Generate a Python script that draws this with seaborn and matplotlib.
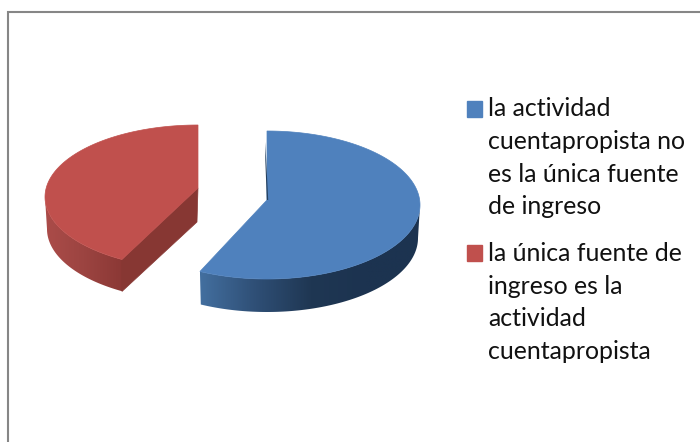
import numpy as np
import matplotlib
matplotlib.use("Agg")
import matplotlib.pyplot as plt
from matplotlib.colors import LinearSegmentedColormap
from matplotlib.legend_handler import HandlerPatch
from matplotlib.patches import Patch, Polygon, Rectangle
import seaborn as sns

labels = ["la actividad\ncuentapropista no\nes la única fuente\nde ingreso",
          "la única fuente de\ningreso es la\nactividad\ncuentapropista"]
values = [57.5, 42.5]
top_colors = sns.color_palette(["#4f81bd", "#c0504d"])

sns.set_theme(style="white")
plt.rcParams["font.family"] = ["Lato", "DejaVu Sans"]

fig = plt.figure(figsize=(7.0, 4.42), dpi=100, facecolor="white")
ax = fig.add_axes([0, 0, 1, 1])
wedges, _ = ax.pie(values, startangle=90, counterclock=False)
angles = [(w.theta1, w.theta2) for w in wedges]
for w in wedges:
    w.remove()
ax.set_aspect("auto")
ax.axis("off")

# geometry of the two exploded slices, in figure pixels
geom = [
    dict(c=(267, 205), tip=(267, 200), rx=153, ry=74, depth=33, skew=(1.0, 0.0),
         cmap=["#436f9f", "#2f4f76", "#1f3753", "#1c3350", "#1c3350"]),
    dict(c=(198, 197), tip=(198, 188), rx=153, ry=72, depth=32, skew=(0.0, -2.8),
         cmap=["#ab4c49", "#9c4441", "#8b3835"]),
]


def ell(g, th, dy=0.0, drx=0.0):
    t = np.radians(th)
    return np.column_stack([g["c"][0] + (g["rx"] + drx) * np.cos(t),
                            g["c"][1] - g["ry"] * np.sin(t) + dy])


for i in (1, 0):
    g = geom[i]
    t1, t2 = angles[i]
    if i == 0:
        t1 += g["skew"][0]
    else:
        t2 += g["skew"][1]
    # side wall: only the part of the arc that faces the viewer
    if i == 0:
        lo, hi = t1, 0.0
    else:
        lo, hi = -180.0, t2
    cm = LinearSegmentedColormap.from_list("side", g["cmap"])
    ths = np.linspace(lo, hi, 120)
    top = ell(g, ths)
    bot = ell(g, ths, dy=g["depth"], drx=-2)
    outline = np.vstack([top, bot[::-1]])
    wall = Polygon(outline, closed=True, facecolor="none", edgecolor="none")
    ax.add_patch(wall)
    im = ax.imshow(np.linspace(0, 1, 256)[None, :], cmap=cm, aspect="auto",
                   extent=(outline[:, 0].min(), outline[:, 0].max(),
                           outline[:, 1].max(), outline[:, 1].min()),
                   interpolation="bilinear")
    im.set_clip_path(wall)
    # flat cut face of the red slice
    if i == 1:
        end = ell(g, [t2])[0]
        ax.add_patch(Polygon([g["tip"], end, (end[0], end[1] + g["depth"]),
                              (g["tip"][0] - 1, g["tip"][1] + 34)], closed=True,
                             facecolor="#873733", edgecolor="#873733", linewidth=0.5))
    # top face
    arc = ell(g, np.linspace(t1, t2, 200))
    ax.add_patch(Polygon(np.vstack([[g["tip"]], arc]), closed=True,
                         facecolor=top_colors[i], edgecolor=top_colors[i], linewidth=0.5,
                         zorder=3))

# thin dark sliver on the blue slice's inner edge
ax.add_patch(Polygon([(265.3, 142), (268.2, 200), (266.8, 200), (265.3, 160)], closed=True,
                     facecolor="#24405f", edgecolor="none", zorder=4))

# chart frame
ax.plot([8, 8, 700], [442, 11.5, 11.5], color="#868686", lw=1.5, solid_joinstyle="miter",
        clip_on=False)
ax.set_xlim(0, 700)
ax.set_ylim(442, 0)

LINE_PT = 32.5 * 72 / 100


def swatch(legend, orig_handle, xdescent, ydescent, width, height, fontsize):
    return Rectangle((0, 1.5 * LINE_PT + 1.4), width, height)


handles = [Patch(color=c) for c in top_colors]
leg = ax.legend(handles, labels, loc="upper left", bbox_to_anchor=(467 / 700, 1 - 97.5 / 442),
                frameon=False, fontsize=17.9, labelcolor="#111111", handlelength=0.6,
                handleheight=0.6, handletextpad=0.24, labelspacing=0.97, borderpad=0,
                borderaxespad=0,
                handler_map={Patch: HandlerPatch(patch_func=swatch)})
for t in leg.get_texts():
    t.set_linespacing(1.5)

fig.savefig("out.png", dpi=100, facecolor="white")
